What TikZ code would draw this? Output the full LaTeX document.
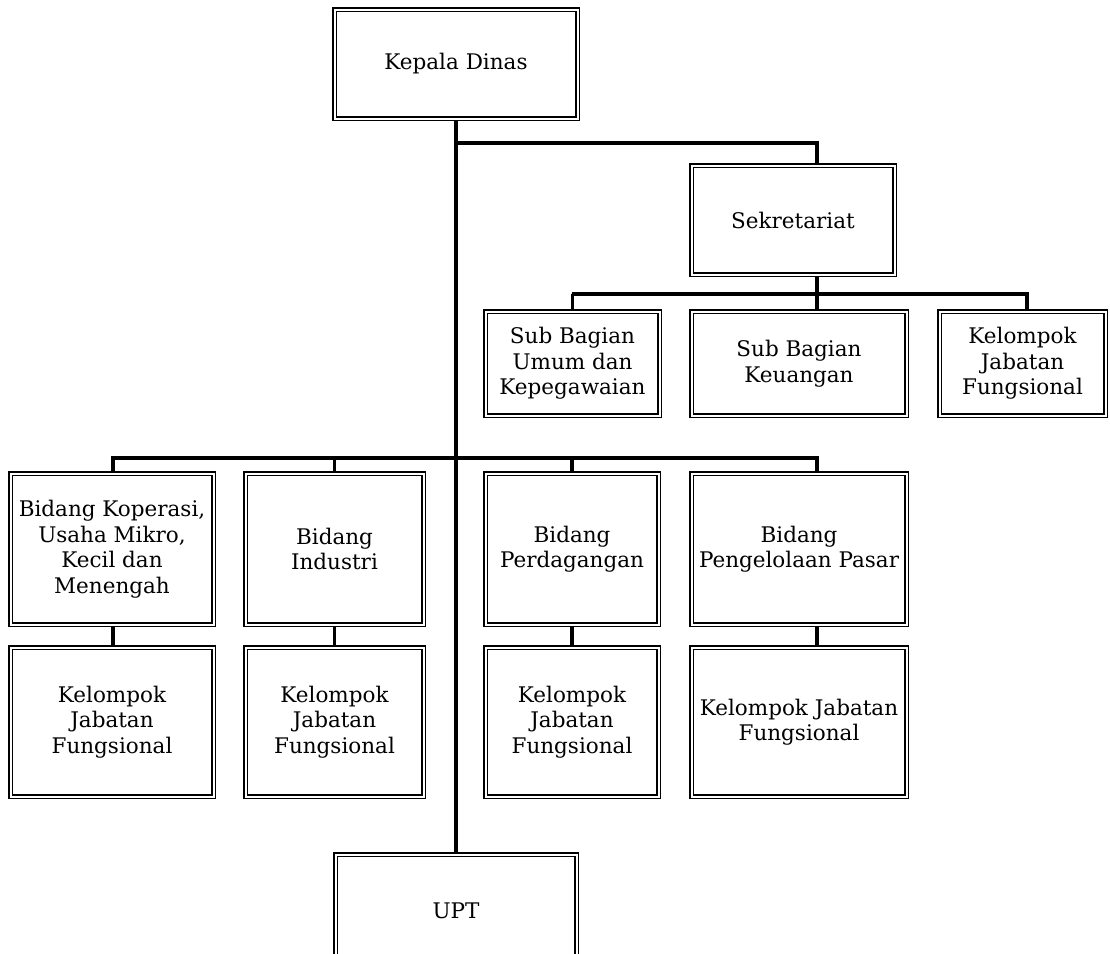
\documentclass[tikz,border=0pt]{standalone}
\usepackage{fontspec}
\setmainfont{DejaVu Serif}
\usetikzlibrary{backgrounds}
\tikzset{
  orgbox/.style={draw, double, line width=1.6pt, double distance=2pt,
    fill=white, align=center, inner sep=1pt,
    font=\fontsize{21.5}{25.5}\selectfont},
  link/.style={line width=3.8pt, line cap=rect}
}
\begin{document}
\begin{tikzpicture}[x=1pt,y=-1pt]
\useasboundingbox (0,0) rectangle (1110,953);
\clip (0,0) rectangle (1110,953);

% top level
\node[orgbox, minimum width=243pt, minimum height=109pt] (kd) at (456,64) {Kepala Dinas};
\node[orgbox, minimum width=203pt, minimum height=109pt] (sek) at (793,220) {Sekretariat};

% secretariat units
\node[orgbox, minimum width=174pt, minimum height=104pt] (sbu) at (572.5,363.5) {Sub Bagian\\Umum dan\\Kepegawaian};
\node[orgbox, minimum width=215pt, minimum height=104pt] (sbk) at (799,363.5) {Sub Bagian\\Keuangan};
\node[orgbox, minimum width=166pt, minimum height=104pt] (kjs) at (1022.5,363.5) {Kelompok\\Jabatan\\Fungsional};

% divisions
\node[orgbox, minimum width=203pt, minimum height=151pt] (b1) at (112,549) {Bidang Koperasi,\\Usaha Mikro,\\Kecil dan\\Menengah};
\node[orgbox, minimum width=178pt, minimum height=151pt] (b2) at (334.5,549) {Bidang\\Industri};
\node[orgbox, minimum width=173pt, minimum height=151pt] (b3) at (572,549) {Bidang\\Perdagangan};
\node[orgbox, minimum width=215pt, minimum height=151pt] (b4) at (799,549) {Bidang\\Pengelolaan Pasar};

% functional groups under divisions
\node[orgbox, minimum width=203pt, minimum height=149pt] (k1) at (112,722) {Kelompok\\Jabatan\\Fungsional};
\node[orgbox, minimum width=178pt, minimum height=149pt] (k2) at (334.5,722) {Kelompok\\Jabatan\\Fungsional};
\node[orgbox, minimum width=173pt, minimum height=149pt] (k3) at (572,722) {Kelompok\\Jabatan\\Fungsional};
\node[orgbox, minimum width=215pt, minimum height=149pt] (k4) at (799,722) {Kelompok Jabatan\\Fungsional};

% technical unit
\node[orgbox, minimum width=241pt, minimum height=113pt] (upt) at (456,911) {UPT};

\begin{scope}[on background layer]
  % main trunk
  \draw[link, line cap=butt] (kd.south) -- (upt.north);
  % branch to the secretariat
  \coordinate (jsek) at (456,143);
  \draw[link] (jsek) -| ([xshift=24pt]sek.north);
  % secretariat to its units
  \coordinate (hsub) at (572,294);
  \draw[link, line cap=butt] ([xshift=24pt]sek.south) -- ([xshift=18pt]sbk.north);
  \draw[link] (sbu.north) |- (hsub) -| ([xshift=4.5pt]kjs.north);
  % divisions bar
  \coordinate (hbid) at (456,458);
  \draw[link] ([xshift=1pt]b1.north) |- (hbid) -| ([xshift=18pt]b4.north);
  \draw[link, line cap=butt] (b2.north) -- ++(0,-13);
  \draw[link, line cap=butt] (b3.north) -- ++(0,-13);
  % divisions to their functional groups
  \draw[link, line cap=butt] ([xshift=1pt]b1.south) -- ([xshift=1pt]k1.north);
  \draw[link, line cap=butt] (b2.south) -- (k2.north);
  \draw[link, line cap=butt] (b3.south) -- (k3.north);
  \draw[link, line cap=butt] ([xshift=18pt]b4.south) -- ([xshift=18pt]k4.north);
\end{scope}
\end{tikzpicture}
\end{document}
